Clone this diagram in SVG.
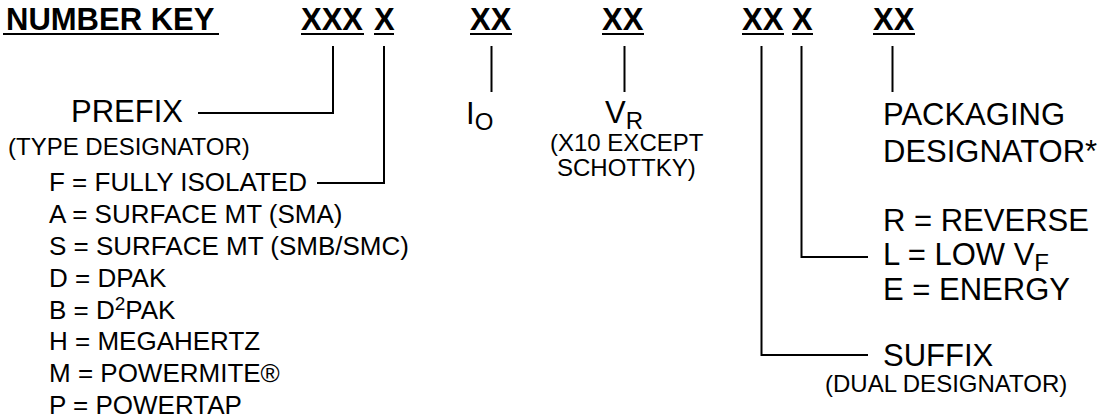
<svg xmlns="http://www.w3.org/2000/svg" width="1105" height="418" viewBox="0 0 1105 418">
<style>
text{font-family:"Liberation Sans",Arial,sans-serif;fill:#000}
.key{font-weight:bold;font-size:31px}
.lbl{font-size:31px}
.itm{font-size:26px}
.sm{font-size:24px}
.sub{font-size:24px}
.ul{stroke:#000;stroke-width:2;fill:none}
.con{stroke:#000;stroke-width:2;fill:none}
</style>
<rect width="1105" height="418" fill="#fff"/>
<g id="key">
<text class="key" x="6" y="30">NUMBER KEY</text><line class="ul" x1="3" y1="34" x2="219" y2="34"/>
<text class="key" x="301" y="30">XXX</text><line class="ul" x1="301" y1="34" x2="364" y2="34"/>
<text class="key" x="374" y="30">X</text><line class="ul" x1="374" y1="34" x2="394" y2="34"/>
<text class="key" x="470" y="30">XX</text><line class="ul" x1="470" y1="34" x2="512" y2="34"/>
<text class="key" x="602" y="30">XX</text><line class="ul" x1="602" y1="34" x2="644" y2="34"/>
<text class="key" x="742" y="30">XX</text><line class="ul" x1="742" y1="34" x2="784" y2="34"/>
<text class="key" x="792" y="30">X</text><line class="ul" x1="792" y1="34" x2="813" y2="34"/>
<text class="key" x="873" y="30">XX</text><line class="ul" x1="873" y1="34" x2="915" y2="34"/>
</g>
<g id="connectors">
<path class="con" d="M333,46 V113 H198"/>
<path class="con" d="M384,46 V183 H317"/>
<path class="con" d="M491.5,46 V92"/>
<path class="con" d="M624.5,46 V92"/>
<path class="con" d="M761.5,46 V355 H868"/>
<path class="con" d="M801.5,46 V257 H868"/>
<path class="con" d="M892.5,46 V92"/>
</g>
<g id="prefix">
<text class="lbl" x="71" y="122">PREFIX</text>
<text class="sm" x="8" y="155">(TYPE DESIGNATOR)</text>
</g>
<g id="type-list">
<text class="itm" x="49" y="191">F = FULLY ISOLATED</text>
<text class="itm" x="49" y="223">A = SURFACE MT (SMA)</text>
<text class="itm" x="49" y="255">S = SURFACE MT (SMB/SMC)</text>
<text class="itm" x="49" y="287">D = DPAK</text>
<text class="itm" x="49" y="319">B = D<tspan font-size="19" dy="-9">2</tspan><tspan dy="9">PAK</tspan></text>
<text class="itm" x="49" y="350">H = MEGAHERTZ</text>
<text class="itm" x="49" y="382">M = POWERMITE®</text>
<text class="itm" x="49" y="414">P = POWERTAP</text>
</g>
<g id="io">
<text class="lbl" x="466" y="124">I<tspan class="sub" dy="6">O</tspan></text>
</g>
<g id="vr">
<text class="lbl" x="605" y="123">V<tspan class="sub" dy="6">R</tspan></text>
<text class="sm" x="550" y="151">(X10 EXCEPT</text>
<text class="sm" x="557" y="176">SCHOTTKY)</text>
</g>
<g id="packaging">
<text class="lbl" x="883" y="125">PACKAGING</text>
<text class="lbl" x="883" y="162">DESIGNATOR*</text>
</g>
<g id="option-list">
<text class="lbl" x="883" y="231">R = REVERSE</text>
<text class="lbl" x="883" y="265">L = LOW V<tspan class="sub" dy="6">F</tspan></text>
<text class="lbl" x="883" y="300">E = ENERGY</text>
</g>
<g id="suffix">
<text class="lbl" x="883" y="366">SUFFIX</text>
<text class="sm" x="825" y="392">(DUAL DESIGNATOR)</text>
</g>
</svg>
